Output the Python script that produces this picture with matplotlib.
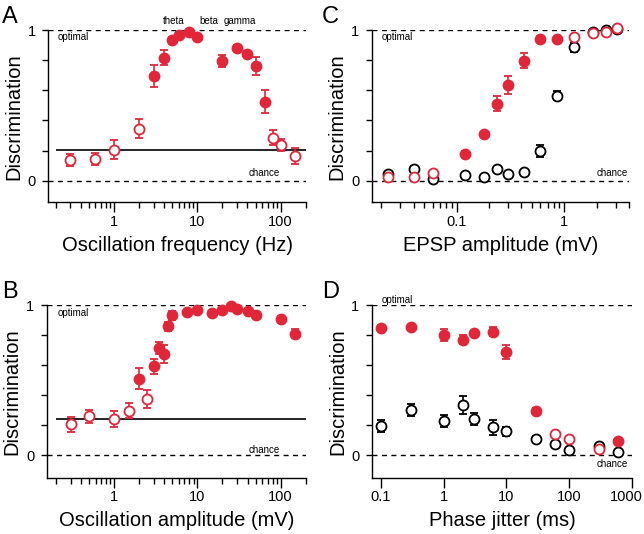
import matplotlib
matplotlib.use("Agg")
import matplotlib.pyplot as plt
import matplotlib.transforms as mtransforms
from matplotlib.ticker import LogLocator, NullFormatter, NullLocator, FixedLocator

plt.rcParams["font.family"] = ["Liberation Sans", "DejaVu Sans"]

RED = "#E1263A"

# --- panel A: oscillation frequency ---
a_open_x = [0.3, 0.6, 1.0, 2.0, 80, 100, 150]
a_open_y = [0.137, 0.144, 0.206, 0.346, 0.286, 0.237, 0.164]
a_open_e = [0.04, 0.04, 0.065, 0.065, 0.05, 0.04, 0.055]
a_fill_x = [3, 4, 5, 6, 8, 10, 20, 30, 40, 50, 65]
a_fill_y = [0.696, 0.816, 0.933, 0.971, 0.991, 0.953, 0.798, 0.885, 0.845, 0.763, 0.525]
a_fill_e = [0.07, 0.05, 0.02, 0.015, 0.01, 0.01, 0.04, 0.02, 0.02, 0.06, 0.075]
a_ref = 0.206

# --- panel B: oscillation amplitude ---
b_open_x = [0.3, 0.5, 1.0, 1.5, 2.5]
b_open_y = [0.207, 0.26, 0.244, 0.296, 0.378]
b_open_e = [0.05, 0.045, 0.055, 0.05, 0.06]
b_fill_x = [2, 3, 3.5, 4, 4.5, 5, 7.5, 10, 15, 20, 25, 30, 40, 50, 100, 150]
b_fill_y = [0.511, 0.593, 0.713, 0.678, 0.86, 0.933, 0.956, 0.971, 0.949, 0.971,
            0.993, 0.978, 0.96, 0.933, 0.911, 0.811]
b_fill_e = [0.07, 0.05, 0.04, 0.06, 0.03, 0.03, 0.01, 0.01, 0.01, 0.01,
            0.01, 0.01, 0.01, 0.01, 0.02, 0.03]
b_ref = 0.244

# --- panel C: EPSP amplitude ---
c_fill_x = [0.12, 0.18, 0.24, 0.3, 0.42, 0.6, 0.86]
c_fill_y = [0.177, 0.313, 0.512, 0.634, 0.796, 0.945, 0.942]
c_fill_e = [0.02, 0.01, 0.05, 0.06, 0.05, 0.01, 0.01]
c_ropen_x = [0.023, 0.04, 0.06, 1.23, 1.85, 2.46, 3.12]
c_ropen_y = [0.022, 0.027, 0.049, 0.958, 0.98, 0.987, 1.013]
c_kopen_x = [0.023, 0.04, 0.06, 0.12, 0.18, 0.24, 0.3, 0.42, 0.6, 0.86, 1.23, 1.85, 2.46, 3.12]
c_kopen_y = [0.042, 0.075, 0.011, 0.038, 0.022, 0.075, 0.044, 0.055, 0.2, 0.565,
             0.887, 0.987, 1.0, 1.007]
c_kopen_e = [0.01, 0.02, 0.01, 0.01, 0.01, 0.01, 0.01, 0.015, 0.04, 0.03,
             0.03, 0.01, 0.01, 0.01]

# --- panel D: phase jitter ---
d_fill_x = [0.1, 0.3, 1, 2, 3, 6, 10, 30, 600]
d_fill_y = [0.849, 0.856, 0.802, 0.771, 0.816, 0.824, 0.689, 0.296, 0.093]
d_fill_e = [0.02, 0.015, 0.04, 0.03, 0.015, 0.03, 0.045, 0.02, 0.01]
d_ropen_x = [60, 100, 300]
d_ropen_y = [0.14, 0.107, 0.044]
d_kopen_x = [0.1, 0.3, 1, 2, 3, 6, 10, 30, 60, 100, 300, 600]
d_kopen_y = [0.193, 0.3, 0.227, 0.333, 0.24, 0.189, 0.162, 0.107, 0.073, 0.033, 0.06, 0.022]
d_kopen_e = [0.04, 0.04, 0.04, 0.06, 0.04, 0.05, 0.03, 0.02, 0.01, 0.01, 0.01, 0.01]

fig = plt.figure(figsize=(6.44, 5.34), dpi=100)

ax_a = fig.add_axes([0.075, 0.6212, 0.3997, 0.3221])
ax_c = fig.add_axes([0.5772, 0.6212, 0.3995, 0.3221])
ax_b = fig.add_axes([0.0725, 0.1054, 0.4022, 0.3228])
ax_d = fig.add_axes([0.5776, 0.1054, 0.4037, 0.3228])

MS = 7.2
DASH = (0, (3.6, 3.2))


def pts(ax, x, y, err=None, color=RED, filled=True):
    kw = dict(fmt="o", ms=MS, capsize=2.8, elinewidth=1.2, capthick=1.2,
              ecolor=color, mec=color, mew=1.3, clip_on=False, zorder=3)
    kw["mfc"] = color if filled else "white"
    ax.errorbar(x, y, yerr=err, **kw)


def style(ax, xlim, ylim, xlabel, minor=True):
    ax.set_xscale("log")
    ax.set_xlim(*xlim)
    ax.set_ylim(*ylim)
    for s in ("top", "right"):
        ax.spines[s].set_visible(False)
    for s in ("left", "bottom"):
        ax.spines[s].set_linewidth(1.0)
    ax.set_yticks([0, 0.2, 0.4, 0.6, 0.8, 1.0])
    ax.set_yticklabels(["0", "", "", "", "", "1"])
    ax.xaxis.set_major_formatter(
        matplotlib.ticker.FuncFormatter(lambda v, p: ("%g" % v)))
    if minor:
        ax.xaxis.set_minor_locator(LogLocator(base=10, subs=range(2, 10), numticks=20))
    else:
        ax.xaxis.set_minor_locator(NullLocator())
    ax.xaxis.set_minor_formatter(NullFormatter())
    ax.tick_params(axis="x", which="major", length=7.5, width=1.0, labelsize=10.5, pad=1.5)
    ax.tick_params(axis="x", which="minor", length=4.5, width=1.0)
    ax.tick_params(axis="y", length=4, width=1.0, labelsize=10.5, pad=5)
    ax.axhline(1, color="black", lw=1.0, ls=DASH, zorder=1)
    ax.axhline(0, color="black", lw=1.0, ls=DASH, zorder=1)
    ax.set_xlabel(xlabel, fontsize=14.5, labelpad=5)
    ax.set_ylabel("Discrimination", fontsize=14.5, labelpad=3)


# A
style(ax_a, (0.163, 200), (-0.144, 1.0), "Oscillation frequency (Hz)")
ax_a.hlines(a_ref, 0.2, 200, color="black", lw=1.2, zorder=2)
pts(ax_a, a_open_x, a_open_y, a_open_e, filled=False)
pts(ax_a, a_fill_x, a_fill_y, a_fill_e)
ax_a.text(0.038, 0.956, "optimal", transform=ax_a.get_yaxis_transform(), fontsize=7, va="center")
ax_a.text(0.838, 0.051, "chance", transform=ax_a.get_yaxis_transform(), fontsize=7, va="center", ha="center")
for lab, xv in (("theta", 5.25), ("beta", 13.8), ("gamma", 32.5)):
    ax_a.text(xv, 1.063, lab, fontsize=7, ha="center", va="center", clip_on=False)

# B
style(ax_b, (0.155, 200), (-0.149, 1.0), "Oscillation amplitude (mV)")
ax_b.hlines(b_ref, 0.2, 200, color="black", lw=1.2, zorder=2)
pts(ax_b, b_open_x, b_open_y, b_open_e, filled=False)
pts(ax_b, b_fill_x, b_fill_y, b_fill_e)
ax_b.text(0.044, 0.949, "optimal", transform=ax_b.get_yaxis_transform(), fontsize=7, va="center")
ax_b.text(0.84, 0.035, "chance", transform=ax_b.get_yaxis_transform(), fontsize=7, va="center", ha="center")

# C
style(ax_c, (0.0163, 4.0), (-0.144, 1.0), "EPSP amplitude (mV)")
pts(ax_c, c_kopen_x, c_kopen_y, c_kopen_e, color="black", filled=False)
pts(ax_c, c_fill_x, c_fill_y, c_fill_e)
pts(ax_c, c_ropen_x, c_ropen_y, None, filled=False)
ax_c.text(0.04, 0.956, "optimal", transform=ax_c.get_yaxis_transform(), fontsize=7, va="center")
ax_c.text(0.936, 0.051, "chance", transform=ax_c.get_yaxis_transform(), fontsize=7, va="center", ha="center")

# D
style(ax_d, (0.0719, 1000), (-0.149, 1.0), "Phase jitter (ms)", minor=False)
ax_d.xaxis.set_major_locator(FixedLocator([0.1, 1, 10, 100, 1000]))
pts(ax_d, d_kopen_x, d_kopen_y, d_kopen_e, color="black", filled=False)
pts(ax_d, d_fill_x, d_fill_y, d_fill_e)
pts(ax_d, d_ropen_x, d_ropen_y, None, filled=False)
ax_d.text(0.038, 1.035, "optimal", transform=ax_d.get_yaxis_transform(), fontsize=7, va="center")
ax_d.text(0.925, -0.058, "chance", transform=ax_d.get_yaxis_transform(), fontsize=7, va="center", ha="center")

# keep the last jitter label inside the canvas
fig.canvas.draw()
last = ax_d.get_xticklabels()[-1]
last.set_transform(last.get_transform() + mtransforms.ScaledTranslation(-6 / 100, 0, fig.dpi_scale_trans))

for lab, xf, yf in (("A", 0.003, 0.988), ("B", 0.003, 0.474), ("C", 0.5, 0.988), ("D", 0.5, 0.474)):
    fig.text(xf, yf, lab, fontsize=17, va="top", ha="left")

fig.savefig("out.png", dpi=100)
